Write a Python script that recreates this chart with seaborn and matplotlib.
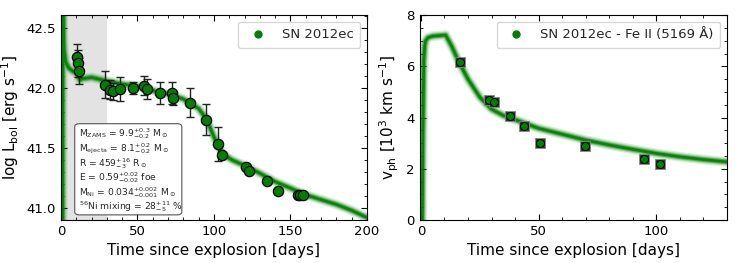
import numpy as np
import pandas as pd
import matplotlib
matplotlib.use("Agg")
import matplotlib.pyplot as plt
import seaborn as sns
from matplotlib.lines import Line2D
from matplotlib.patches import FancyBboxPatch
from matplotlib.ticker import MultipleLocator

# ---------------- data ----------------
lc_t = [10.4, 10.9, 12.0, 28.7, 32.2, 34.3, 38.7, 47.4, 54.3, 56.5, 64.8, 72.8, 73.3,
        84.3, 94.6, 102.6, 105.4, 121.1, 122.8, 134.8, 142.0, 155.0, 156.5, 158.0]
lc_L = [42.262, 42.207, 42.141, 42.03, 41.986, 41.975, 41.997, 42.0, 42.022, 41.994,
        41.96, 41.96, 41.917, 41.878, 41.738, 41.533, 41.44, 41.345, 41.31, 41.226,
        41.146, 41.11, 41.11, 41.11]
lc_err = [0.11, 0.11, 0.11, 0.11, 0.08, 0.07, 0.10, 0.05, 0.08, 0.08, 0.09, 0.09, 0.06,
          0.12, 0.13, 0.14, 0.0, 0.0, 0.0, 0.0, 0.0, 0.0, 0.0, 0.0]

model_lc_t = [1.0, 1.2, 1.6, 2.0, 3.0, 5.0, 8.0, 10.0, 11.5, 12.5, 14.0, 20.0, 30.0, 40.0,
              50.0, 60.0, 70.0, 80.0, 90.0, 95.0, 100.0, 103.0, 107.0, 112.0, 120.0,
              130.0, 140.0, 150.0, 160.0, 170.0, 180.0, 190.0, 200.0]
model_lc_L = [40.0, 43.0, 42.45, 42.32, 42.22, 42.17, 42.14, 42.13, 42.09, 42.07, 42.08,
              42.09, 42.06, 42.035, 42.016, 41.98, 41.953, 41.91, 41.83, 41.746, 41.594,
              41.51, 41.44, 41.40, 41.354, 41.29, 41.22, 41.166, 41.11, 41.07, 41.03,
              40.98, 40.92]

v_t = [16.7, 28.8, 30.9, 37.9, 43.7, 50.8, 69.8, 94.8, 101.7]
v_ph = [6.18, 4.68, 4.59, 4.08, 3.68, 2.99, 2.90, 2.38, 2.18]

model_v_t = [0.6, 0.8, 1.2, 1.6, 2.0, 3.0, 5.0, 10.5, 13.0, 16.0, 20.0, 25.0, 30.0, 35.0,
             40.0, 50.0, 60.0, 70.0, 80.0, 90.0, 100.0, 110.0, 120.0, 130.0]
model_v = [0.0, 3.0, 6.2, 6.8, 7.0, 7.12, 7.18, 7.22, 6.8, 6.2, 5.5, 4.8, 4.33, 4.08,
           3.92, 3.58, 3.35, 3.12, 2.93, 2.76, 2.6, 2.47, 2.36, 2.27]

box_lines = [r"M$_\mathrm{ZAMS}$ = 9.9$^{+0.3}_{-0.2}$ M$_\odot$",
             r"M$_\mathrm{ejecta}$ = 8.1$^{+0.2}_{-0.2}$ M$_\odot$",
             r"R = 459$^{+16}_{-3}$ R$_\odot$",
             r"E = 0.59$^{+0.02}_{-0.02}$ foe",
             r"M$_\mathrm{Ni}$ = 0.034$^{+0.002}_{-0.001}$ M$_\odot$",
             r"$^{56}$Ni mixing = 28$^{+11}_{-5}$ %"]

# ---------------- style ----------------
sns.set_style("ticks")
plt.rcParams["font.family"] = ["DejaVu Sans"]
plt.rcParams["mathtext.default"] = "regular"
plt.rcParams["mathtext.fontset"] = "dejavusans"

GREEN = "#008000"

fig = plt.figure(figsize=(7.39, 2.63), dpi=100)
ax1 = fig.add_axes([0.0825, 0.1635, 0.414, 0.779])
ax2 = fig.add_axes([0.568, 0.1635, 0.4155, 0.779])

def style_axes(ax, xmaj, xmin, ymaj, ymin):
    ax.xaxis.set_major_locator(MultipleLocator(xmaj))
    ax.xaxis.set_minor_locator(MultipleLocator(xmin))
    ax.yaxis.set_major_locator(MultipleLocator(ymaj))
    ax.yaxis.set_minor_locator(MultipleLocator(ymin))
    ax.tick_params(which="both", direction="in", top=True, right=True, labelsize=9.5,
                   labelcolor="black", color="black")
    ax.tick_params(which="major", length=4, width=0.8)
    ax.tick_params(which="minor", length=2, width=0.6)
    for s in ax.spines.values():
        s.set_linewidth(0.8)
        s.set_color("black")

# ---------------- left panel ----------------
ax1.axvspan(0, 30, color="#e3e3e3", zorder=0, lw=0)
lc_model = pd.DataFrame({"t": model_lc_t, "L": model_lc_L})
for lw, a in [(7, 0.15), (5, 0.25), (3.5, 0.45), (2.0, 0.9)]:
    sns.lineplot(data=lc_model, x="t", y="L", ax=ax1, color=GREEN, lw=lw, alpha=a,
                 zorder=2, legend=False)
ax1.errorbar(lc_t, lc_L, yerr=lc_err, fmt="none", ecolor="#222222", elinewidth=1.0,
             capsize=3, capthick=1.0, zorder=3)
lc_df = pd.DataFrame({"t": lc_t, "L": lc_L})
sns.scatterplot(data=lc_df, x="t", y="L", ax=ax1, color=GREEN, edgecolor="black",
                s=55, linewidth=0.9, zorder=4, legend=False)
ax1.set_xlim(0, 200)
ax1.set_ylim(40.9, 42.61)
style_axes(ax1, 50, 10, 0.5, 0.1)
ax1.set_xlabel("Time since explosion [days]", fontsize=11, color="black")
ax1.set_ylabel(r"log L$_\mathrm{bol}$ [erg s$^{-1}$]", fontsize=11, color="black")
h1 = Line2D([], [], ls="none", marker="o", color=GREEN, markersize=5)
ax1.legend([h1], ["SN 2012ec"], loc="upper right", fontsize=9.5, frameon=True,
           fancybox=True, edgecolor="#cccccc", handletextpad=0.8, borderpad=0.5)

# parameter box
box = FancyBboxPatch((0.045, 0.025), 0.35, 0.445, boxstyle="round,pad=0,rounding_size=0.015",
                     transform=ax1.transAxes, facecolor="white", edgecolor="#555555",
                     linewidth=0.8, zorder=6)
ax1.add_patch(box)
for i, line in enumerate(box_lines):
    ax1.text(0.058, 0.42 - i * 0.071, line, transform=ax1.transAxes, fontsize=6.6,
             va="center", ha="left", zorder=7)

# ---------------- right panel ----------------
v_model = pd.DataFrame({"t": model_v_t, "v": model_v})
for lw, a in [(7, 0.15), (5, 0.25), (3.5, 0.45), (2.0, 0.9)]:
    sns.lineplot(data=v_model, x="t", y="v", ax=ax2, color=GREEN, lw=lw, alpha=a,
                 zorder=2, legend=False)
v_df = pd.DataFrame({"t": v_t, "v": v_ph})
sns.scatterplot(data=v_df, x="t", y="v", ax=ax2, marker="s", color="#333333",
                edgecolor="#888888", s=50, linewidth=0.6, zorder=3, legend=False)
sns.scatterplot(data=v_df, x="t", y="v", ax=ax2, color=GREEN, edgecolor="black",
                s=32, linewidth=0.6, zorder=4, legend=False)
ax2.set_xlim(-0.5, 130)
ax2.set_ylim(0, 8)
style_axes(ax2, 50, 10, 2, 0.5)
ax2.set_xlabel("Time since explosion [days]", fontsize=11, color="black")
ax2.set_ylabel(r"v$_\mathrm{ph}$ [10$^3$ km s$^{-1}$]", fontsize=11, color="black")
h2 = Line2D([], [], ls="none", marker="o", color=GREEN, markersize=5)
ax2.legend([h2], ["SN 2012ec - Fe II (5169 Å)"], loc="upper right", fontsize=9.5,
           frameon=True, fancybox=True, edgecolor="#cccccc", handletextpad=0.8,
           borderpad=0.5)

fig.savefig("out.png", dpi=100)
